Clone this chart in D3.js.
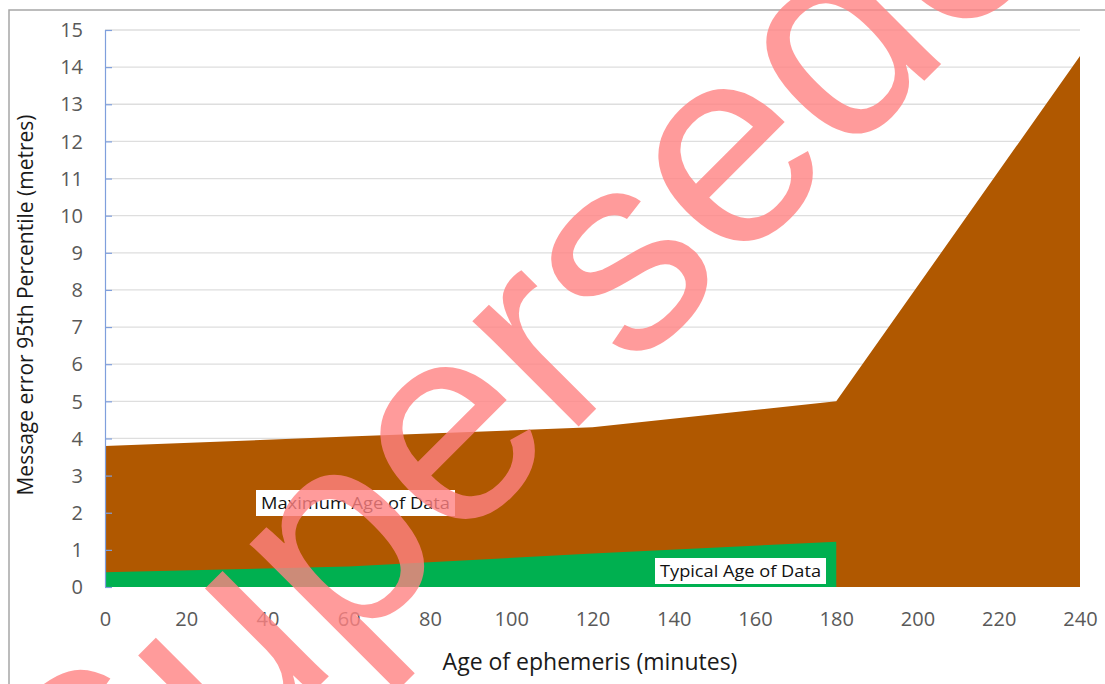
<!DOCTYPE html>
<html><head><meta charset="utf-8">
<script src="https://cdn.jsdelivr.net/npm/d3@7/dist/d3.min.js"></script>
<style>html,body{margin:0;padding:0;background:#fff;overflow:hidden}</style>
</head><body>
<svg id="c" width="1105" height="684"></svg>
<script>
const maxMinutes = [0, 60, 120, 180, 240];
const maxValues  = [3.8, 4.05, 4.3, 5.0, 14.3];
const typMinutes = [0, 60, 120, 180];
const typValues  = [0.4, 0.55, 0.9, 1.22];
const xTicks = [0,20,40,60,80,100,120,140,160,180,200,220,240];
const yTicks = [0,1,2,3,4,5,6,7,8,9,10,11,12,13,14,15];
const maxLabel = "Maximum Age of Data";
const typLabel = "Typical Age of Data";
const xTitle = "Age of ephemeris (minutes)";
const yTitle = "Message error 95th Percentile (metres)";
const watermark = "Superseded";

const svg = d3.select("#c");
const font = "'Open Sans', sans-serif";
const L = 105, R = 1080, T = 30, B = 587;
const x = d3.scaleLinear().domain([0,240]).range([L,R]);
const y = d3.scaleLinear().domain([0,15]).range([B,T]);

// outer border
svg.append("rect").attr("x",9).attr("y",10).attr("width",1200).attr("height",800)
  .attr("fill","none").attr("stroke","#a6a6a6").attr("stroke-width",1.5);

// gridlines
svg.append("g").selectAll("line").data(yTicks.filter(d=>d>0)).join("line")
  .attr("x1",L).attr("x2",R).attr("y1",d=>y(d)).attr("y2",d=>y(d))
  .attr("stroke","#dedede").attr("stroke-width",1.3);

const maxData = maxMinutes.map((m,i)=>({m, v:maxValues[i]}));
const typData = typMinutes.map((m,i)=>({m, v:typValues[i]}));
const area = d3.area().x(d=>x(d.m)).y0(y(0)).y1(d=>y(d.v));
svg.append("path").datum(maxData).attr("d",area).attr("fill","#b05800");
svg.append("path").datum(typData).attr("d",area).attr("fill","#00b050");

// y axis
const yAxis = d3.axisRight(y).tickValues(yTicks).tickSize(7).tickFormat("");
const ya = svg.append("g").attr("transform",`translate(${L},0)`).call(yAxis);
ya.selectAll("path,line").attr("stroke","#7f9fdc").attr("stroke-width",1.2);
ya.select(".domain").attr("d",`M0.5,${T}V${B}`);
svg.append("g").selectAll("text").data(yTicks).join("text")
  .attr("x",83).attr("y",d=>y(d)).attr("dy","0.36em").attr("text-anchor","end")
  .attr("font-family",font).attr("font-size",20).attr("fill","#595959").text(d=>d);

// x axis labels
const xAxis = d3.axisBottom(x).tickValues(xTicks).tickSize(0).tickPadding(0);
const xa = svg.append("g").attr("transform",`translate(0,${B})`).call(xAxis);
xa.select(".domain").remove();
xa.selectAll("text").attr("y",39).attr("dy",0).attr("font-family",font)
  .attr("font-size",20).attr("fill","#595959");

// titles
svg.append("text").attr("x",590).attr("y",670).attr("text-anchor","middle")
  .attr("font-family",font).attr("font-size",23).attr("fill","#1a1a1a").text(xTitle);
svg.append("text").attr("transform","translate(33,305) rotate(-90)").attr("text-anchor","middle")
  .attr("font-family",font).attr("font-size",21).attr("fill","#1a1a1a").text(yTitle);

// data labels
function label(txt, x0, yBase, w, fs){
  const g = svg.append("g");
  const r = g.append("rect").attr("fill","#fff");
  const t = g.append("text").attr("x",x0+5).attr("y",yBase)
    .attr("font-family",font).attr("font-size",fs).attr("fill","#111").text(txt);
  t.attr("textLength",w).attr("lengthAdjust","spacingAndGlyphs");
  r.attr("x",x0).attr("y",yBase-19).attr("width",w+10).attr("height",26);
}
label(maxLabel, 256, 509, 189, 17);
label(typLabel, 655, 577, 161, 17);

// watermark
svg.append("text").attr("transform","translate(637,368) rotate(-45)")
  .attr("text-anchor","middle").attr("font-family","'Liberation Sans', Arial, sans-serif")
  .attr("font-size",283).attr("fill","rgb(255,130,130)").attr("fill-opacity",0.8)
  .text(watermark);
</script>
</body></html>
